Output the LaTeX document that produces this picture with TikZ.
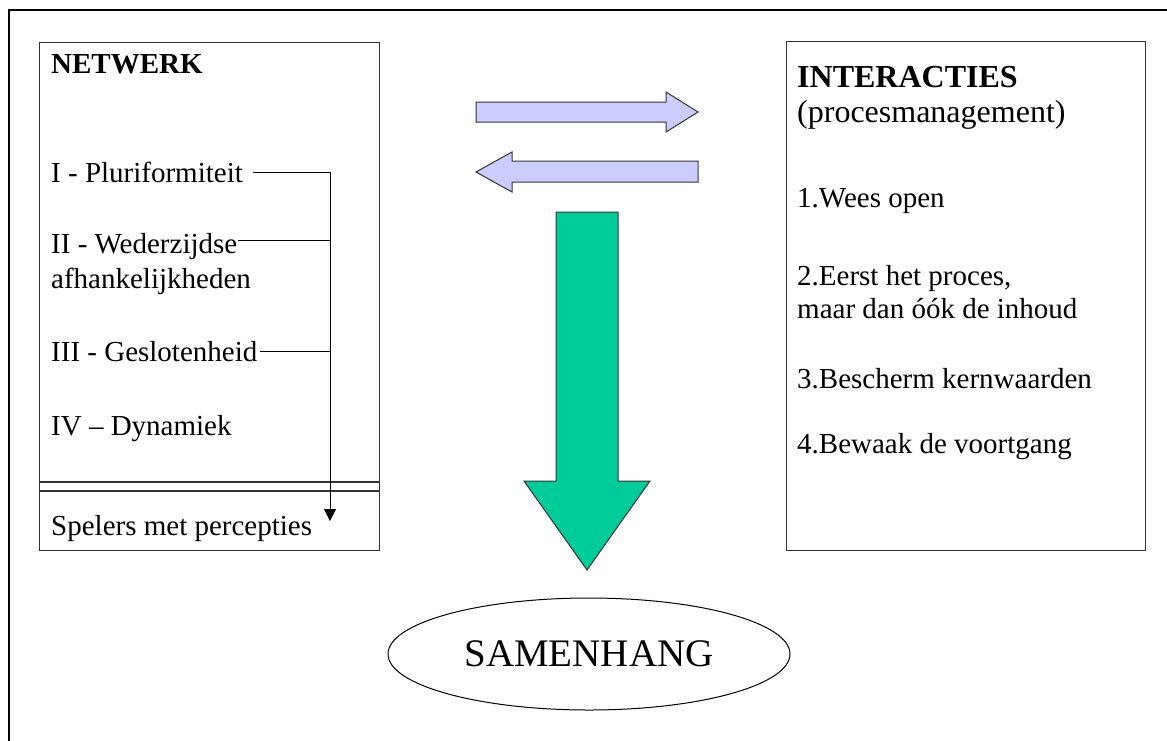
\documentclass[tikz,border=0pt]{standalone}
\usepackage{fontspec}
\setmainfont{Liberation Serif}
\usetikzlibrary{arrows.meta,shapes.geometric}
\begin{document}
\begin{tikzpicture}[x=1pt,y=-1pt,
  txt/.style={anchor=base west,inner sep=0pt,font=\fontsize{29}{34}\selectfont},
  bigtxt/.style={anchor=base west,inner sep=0pt,font=\fontsize{32}{38}\selectfont},
  box/.style={draw=black!80,line width=1.3pt,inner sep=0pt,anchor=north west},
  conn/.style={draw=black,line width=1pt},
  fatarrow/.style={draw=black!80,line width=1pt,line join=miter},
]
\useasboundingbox (0,0) rectangle (1167,740);
% outer frame
\draw[line width=2.6pt] (9,741) -- (9,10) -- (1168,10);
% boxes
\node[box,minimum width=340pt,minimum height=508pt] (netbox) at (39,42) {};
\node[box,minimum width=359pt,minimum height=509pt] (intbox) at (786,41) {};
\draw[draw=black!80,line width=1.2pt] (netbox.west |- 0,482) -- (netbox.east |- 0,482);
\draw[draw=black!80,line width=1.2pt] (netbox.west |- 0,491) -- (netbox.east |- 0,491);
% left texts
\node[txt,font=\fontsize{29}{34}\selectfont\bfseries] (netw) at (51,73) {NETWERK};
\node[txt] (t1) at (51,182) {I - Pluriformiteit};
\node[txt] (t2) at (51,253) {II - Wederzijdse};
\node[txt] (t2b) at (51,288) {afhankelijkheden};
\node[txt] (t3) at (51,361) {III - Geslotenheid};
\node[txt] (t4) at (51,435) {IV – Dynamiek};
\node[txt] (sp) at (51,535) {Spelers met percepties};
% connectors
\coordinate (j1) at (330,172);
\coordinate (j2) at (330,240);
\coordinate (j3) at (330,351);
\coordinate (tip) at (330,521);
\draw[conn] ([xshift=10pt]t1.east |- j1) -- (j1);
\draw[conn] ([xshift=1pt]t2.east |- j2) -- (j2);
\draw[conn] ([xshift=2pt]t3.east |- j3) -- (j3);
\draw[conn,-{Triangle[width=12pt,length=12pt]}] (j1) -- (tip);
% right texts
\node[bigtxt,font=\fontsize{32}{38}\selectfont\bfseries] (inter) at (797,87) {INTERACTIES};
\node[bigtxt] (proc) at (797,122) {(procesmanagement)};
\node[txt] (r1) at (797,207) {1.Wees open};
\node[txt] (r2) at (797,285) {2.Eerst het proces,};
\node[txt] (r2b) at (797,318) {maar dan óók de inhoud};
\node[txt] (r3) at (797,388) {3.Bescherm kernwaarden};
\node[txt] (r4) at (797,453) {4.Bewaak de voortgang};
% block arrows
\draw[fatarrow,fill={rgb,255:red,204;green,204;blue,255}]
  (476,102) -- (666,102) -- (666,92) -- (698,112) -- (666,132) -- (666,122) -- (476,122) -- cycle;
\draw[fatarrow,fill={rgb,255:red,204;green,204;blue,255}]
  (698,161) -- (512,161) -- (512,152) -- (476,172) -- (512,192) -- (512,182) -- (698,182) -- cycle;
\draw[fatarrow,fill={rgb,255:red,0;green,204;blue,153}]
  (556,212) -- (618,212) -- (618,481) -- (650,481) -- (587,570) -- (524,481) -- (556,481) -- cycle;
% ellipse
\node[ellipse,draw,line width=1pt,minimum width=402pt,minimum height=112pt,inner sep=0pt,
  font=\fontsize{39}{44}\selectfont] (sam) at (589,654) {SAMENHANG};
\end{tikzpicture}
\end{document}
